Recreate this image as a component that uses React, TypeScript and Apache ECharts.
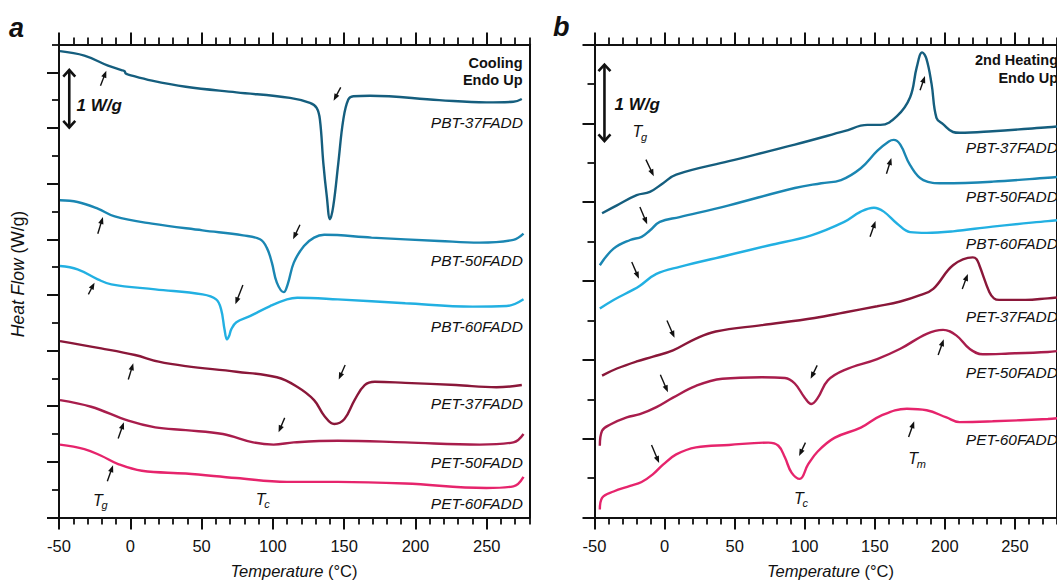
import React, { useEffect, useRef } from "react";
import * as echarts from "echarts";

// ---------- data ----------
const tempTicks = [-50, 0, 50, 100, 150, 200, 250];
const coolYMajor = [0, 1, 2, 3, 4, 5, 6, 7, 8];
const heatYMajor = [0, 1, 2, 3, 4, 5, 6];

const seriesNames = ["PBT-37FADD", "PBT-50FADD", "PBT-60FADD", "PET-37FADD", "PET-50FADD", "PET-60FADD"];
const seriesColors = ["#155e7e", "#1a86b2", "#22b0e2", "#8a1739", "#a81d4c", "#e6246c"];

// Panel a: cooling [T (°C), heat flow (W/g, offset)]
const coolPBT37 = [[-49.3, 8.38], [-32.2, 8.3], [-15.6, 8.12], [-6.2, 8.04], [-4.0, 8.02], [-3.3, 7.98], [-1.4, 7.96], [15.2, 7.85], [38.9, 7.74], [74.4, 7.64], [112.0, 7.54], [126.0, 7.45], [130.7, 7.36], [133.0, 7.15], [135.4, 6.37], [137.8, 5.78], [140.1, 5.36], [142.4, 5.6], [145.9, 6.37], [149.4, 7.15], [152.9, 7.51], [156.4, 7.57], [168.1, 7.58], [216.6, 7.5], [249.7, 7.46], [268.7, 7.47], [274.6, 7.52]];
const coolPBT50 = [[-49.3, 5.7], [-37.0, 5.67], [-22.8, 5.55], [-10.9, 5.41], [15.2, 5.28], [50.7, 5.16], [79.1, 5.07], [91.0, 5.0], [95.7, 4.85], [99.3, 4.58], [102.8, 4.22], [107.6, 4.05], [110.5, 4.2], [114.7, 4.58], [121.8, 4.88], [128.9, 5.03], [136.0, 5.08], [169.2, 5.03], [216.6, 4.97], [245.0, 4.94], [268.7, 4.99], [275.8, 5.1]];
const coolPBT60 = [[-49.3, 4.52], [-37.0, 4.46], [-22.8, 4.28], [-13.3, 4.19], [17.5, 4.1], [50.7, 4.01], [60.2, 3.92], [63.7, 3.74], [66.1, 3.38], [67.8, 3.2], [69.3, 3.26], [70.8, 3.38], [74.4, 3.51], [83.9, 3.62], [98.1, 3.8], [109.9, 3.92], [117.1, 3.95], [145.5, 3.92], [192.9, 3.85], [240.3, 3.79], [264.0, 3.8], [275.8, 3.92]];
const coolPET37 = [[-49.3, 3.17], [-20.4, 3.04], [3.3, 2.92], [19.9, 2.8], [38.9, 2.72], [74.4, 2.62], [102.8, 2.52], [117.0, 2.35], [128.9, 2.11], [136.0, 1.83], [143.1, 1.68], [150.2, 1.77], [157.3, 2.11], [164.4, 2.38], [171.5, 2.44], [192.9, 2.42], [228.4, 2.38], [256.8, 2.34], [274.6, 2.38]];
const coolPET50 = [[-49.3, 2.11], [-27.5, 1.99], [-1.4, 1.74], [17.5, 1.62], [38.9, 1.57], [64.9, 1.5], [86.2, 1.35], [100.5, 1.31], [114.7, 1.35], [145.5, 1.38], [192.9, 1.35], [245.0, 1.31], [268.7, 1.35], [275.8, 1.5]];
const coolPET60 = [[-49.3, 1.31], [-32.2, 1.23], [-20.4, 1.11], [-8.5, 0.96], [8.1, 0.84], [38.9, 0.79], [74.4, 0.71], [109.9, 0.64], [145.5, 0.64], [192.9, 0.61], [249.7, 0.53], [268.7, 0.56], [275.8, 0.73]];

// Panel b: 2nd heating
const heatPBT37 = [[-44.6, 3.86], [-34.0, 3.96], [-19.9, 4.09], [-10.5, 4.13], [-1.1, 4.24], [8.3, 4.35], [45.9, 4.52], [92.9, 4.73], [128.2, 4.9], [144.7, 4.98], [154.1, 4.98], [165.8, 5.09], [175.2, 5.33], [179.9, 5.71], [183.8, 5.9], [186.8, 5.82], [190.5, 5.5], [194.0, 5.07], [198.7, 4.99], [205.8, 4.89], [210.5, 4.88], [234.0, 4.9], [273.5, 4.95], [280, 4.96]];
const heatPBT50 = [[-46.2, 3.2], [-36.4, 3.41], [-24.6, 3.52], [-16.4, 3.56], [-10.5, 3.64], [-3.4, 3.75], [10.7, 3.81], [45.9, 3.96], [92.9, 4.18], [111.8, 4.24], [125.9, 4.28], [140.0, 4.43], [151.7, 4.65], [160.0, 4.77], [163.5, 4.79], [168.2, 4.73], [175.2, 4.47], [184.6, 4.28], [198.7, 4.24], [234.0, 4.26], [273.5, 4.31], [280, 4.32]];
const heatPBT60 = [[-46.2, 2.65], [-36.4, 2.76], [-22.3, 2.89], [-17.6, 2.94], [-5.8, 3.09], [10.7, 3.18], [45.9, 3.33], [74.1, 3.45], [104.7, 3.58], [128.2, 3.75], [140.0, 3.88], [149.4, 3.93], [156.4, 3.88], [165.8, 3.73], [175.2, 3.62], [187.0, 3.61], [205.8, 3.63], [234.0, 3.69], [273.5, 3.76], [280, 3.77]];
const heatPET37 = [[-44.6, 1.8], [-34.0, 1.89], [-19.9, 1.98], [-8.2, 2.04], [6.0, 2.12], [22.4, 2.27], [36.5, 2.36], [69.4, 2.44], [107.1, 2.53], [128.2, 2.6], [151.7, 2.68], [168.2, 2.74], [182.3, 2.82], [191.7, 2.9], [205.8, 3.2], [219.9, 3.3], [222.5, 3.28], [224.6, 3.2], [231.7, 2.86], [235.0, 2.78], [238.7, 2.76], [257.5, 2.76], [273.5, 2.78], [280, 2.79]];
const heatPET50 = [[-46.2, 0.91], [-44.6, 1.1], [-38.7, 1.18], [-27.0, 1.27], [-17.6, 1.31], [-5.8, 1.4], [6.0, 1.52], [22.4, 1.67], [41.2, 1.76], [69.4, 1.78], [85.9, 1.77], [92.9, 1.7], [100.0, 1.52], [104.7, 1.44], [109.4, 1.52], [116.5, 1.74], [128.2, 1.87], [151.7, 2.01], [168.2, 2.14], [187.0, 2.33], [198.7, 2.38], [208.1, 2.31], [217.6, 2.14], [227.0, 2.07], [245.8, 2.08], [273.5, 2.1], [280, 2.11]];
const heatPET60 = [[-46.2, 0.1], [-44.6, 0.25], [-36.4, 0.33], [-24.6, 0.4], [-16.4, 0.45], [-8.2, 0.55], [-1.1, 0.67], [8.3, 0.8], [22.4, 0.89], [45.9, 0.92], [74.1, 0.95], [81.2, 0.91], [85.9, 0.76], [90.6, 0.57], [96.5, 0.49], [102.3, 0.67], [109.4, 0.84], [121.2, 1.01], [140.0, 1.14], [154.1, 1.29], [172.9, 1.38], [187.0, 1.36], [201.1, 1.27], [210.5, 1.21], [234.0, 1.22], [273.5, 1.25], [280, 1.26]];

// annotation arrows [tailT, tailY, headT, headY]
const coolArrows = [[-20.9, 7.76, -16.8, 8.03], [147.6, 7.73, 142.6, 7.49], [-22.8, 5.1, -19.2, 5.4], [119.0, 5.26, 114.2, 5.0], [-29.4, 4.01, -25.1, 4.22], [79.0, 4.18, 73.7, 3.83], [-1.4, 2.48, 2.1, 2.77], [150.7, 2.74, 146.2, 2.48], [-8.5, 1.42, -4.5, 1.71], [108.3, 1.79, 104.0, 1.53], [-16.1, 0.65, -12.1, 0.94]];
const heatArrows = [[-13.3, 4.54, -7.7, 4.33], [-17.6, 3.94, -12.4, 3.72], [-23.4, 3.24, -18.3, 3.03], [182.3, 5.42, 185.8, 5.6], [158.3, 4.36, 161.8, 4.56], [146.6, 3.56, 150.5, 3.76], [212.4, 2.9, 216.4, 3.09], [1.7, 2.5, 7.1, 2.28], [-3.0, 1.81, 2.4, 1.59], [108.9, 1.93, 104.2, 1.76], [195.2, 2.06, 199.2, 2.26], [-9.3, 0.92, -3.9, 0.69], [100.5, 0.95, 96.0, 0.78], [174.1, 1.02, 178.1, 1.22]];
// 1 W/g scale bars [T, yLow, yHigh]
const coolScaleBar = [[-42.8, 7.0, 8.05]];
const heatScaleBar = [[-42.9, 4.77, 5.75]];

const coolCurves = [coolPBT37, coolPBT50, coolPBT60, coolPET37, coolPET50, coolPET60];
const heatCurves = [heatPBT37, heatPBT50, heatPBT60, heatPET37, heatPET50, heatPET60];

// ---------- styling helpers ----------
const FONT = "'Liberation Sans', Arial, Helvetica, sans-serif";
const INK = "#111111";

function xAxesFor(grid: number) {
  const base = { type: "value", gridIndex: grid, min: -50, max: 280, splitLine: { show: false } };
  const line = { show: true, onZero: false, lineStyle: { color: INK, width: 2 } };
  const noLine = { show: false, onZero: false };
  return [
    { ...base, position: "bottom", interval: 50, axisLine: line,
      axisTick: { show: true, length: 12, customValues: tempTicks, lineStyle: { color: INK, width: 2 } },
      axisLabel: { show: true, customValues: tempTicks, margin: 20, fontFamily: FONT, fontSize: 16.5, color: INK } },
    { ...base, position: "bottom", interval: 10, axisLine: noLine,
      axisTick: { show: true, length: 7, lineStyle: { color: INK, width: 1.8 } }, axisLabel: { show: false } },
    { ...base, position: "top", interval: 50, axisLine: line,
      axisTick: { show: true, length: 12, customValues: tempTicks, lineStyle: { color: INK, width: 2 } }, axisLabel: { show: false } },
    { ...base, position: "top", interval: 10, axisLine: noLine,
      axisTick: { show: true, length: 7, lineStyle: { color: INK, width: 1.8 } }, axisLabel: { show: false } },
  ];
}

function yAxesFor(grid: number, max: number, majors: number[]) {
  const base = { type: "value", gridIndex: grid, min: 0, max, splitLine: { show: false } };
  return [
    { ...base, position: "left", interval: 1, axisLine: { show: true, onZero: false, lineStyle: { color: INK, width: 2 } },
      axisTick: { show: true, length: 12, customValues: majors, lineStyle: { color: INK, width: 2 } }, axisLabel: { show: false } },
    { ...base, position: "left", interval: 0.5, axisLine: { show: false, onZero: false },
      axisTick: { show: true, length: 7, lineStyle: { color: INK, width: 1.8 } }, axisLabel: { show: false } },
    { ...base, position: "right", interval: 1, axisLine: { show: true, onZero: false, lineStyle: { color: INK, width: 2 } },
      axisTick: { show: false }, axisLabel: { show: false } },
  ];
}

function arrowRender(_p: any, api: any) {
  const a = api.coord([api.value(0), api.value(1)]);
  const b = api.coord([api.value(2), api.value(3)]);
  const dx = b[0] - a[0], dy = b[1] - a[1];
  const len = Math.hypot(dx, dy) || 1;
  const ux = dx / len, uy = dy / len;
  const L = 7, W = 2.7;
  const bx = b[0] - ux * L, by = b[1] - uy * L;
  return {
    type: "group",
    children: [
      { type: "line", shape: { x1: a[0], y1: a[1], x2: bx + ux, y2: by + uy }, style: { stroke: INK, lineWidth: 1.4 } },
      { type: "polygon", shape: { points: [[b[0], b[1]], [bx - uy * W, by + ux * W], [bx + uy * W, by - ux * W]] }, style: { fill: INK } },
    ],
  };
}

function scaleBarRender(_p: any, api: any) {
  const top = api.coord([api.value(0), api.value(2)]);
  const bot = api.coord([api.value(0), api.value(1)]);
  const hw = 6, hh = 7;
  const st = { stroke: INK, lineWidth: 2.6, fill: null, lineJoin: "miter" };
  return {
    type: "group",
    children: [
      { type: "line", shape: { x1: top[0], y1: top[1] + 1, x2: bot[0], y2: bot[1] - 1 }, style: st },
      { type: "polyline", shape: { points: [[top[0] - hw, top[1] + hh], [top[0], top[1] + 0.5], [top[0] + hw, top[1] + hh]] }, style: st },
      { type: "polyline", shape: { points: [[bot[0] - hw, bot[1] - hh], [bot[0], bot[1] - 0.5], [bot[0] + hw, bot[1] - hh]] }, style: st },
    ],
  };
}

function text(x: number, y: number, t: string, o: any = {}) {
  const align = o.align || "left";
  return {
    type: "text", x, y, z: 10, rotation: o.rotation || 0,
    style: {
      text: t, fill: INK, fontFamily: FONT, fontSize: o.size || 15.5,
      fontStyle: o.italic ? "italic" : "normal", fontWeight: o.bold ? "bold" : "normal",
      align, textAlign: align, verticalAlign: "middle", textVerticalAlign: "middle",
    },
  };
}

function symbolLabel(x: number, y: number, sub: string) {
  return [
    text(x, y, "T", { italic: true, size: 16 }),
    text(x + 8.6, y + 5, sub, { italic: true, size: 11 }),
  ];
}

function richTitle(x: number, y: number, italicPart: string, plainPart: string, size: number, rotation = 0) {
  const tok = (italic: boolean) => ({ fontFamily: FONT, fontSize: size, fontStyle: italic ? "italic" : "normal", fill: INK });
  return {
    type: "text", x, y, rotation, z: 10,
    style: {
      text: `{i|${italicPart}}{n| ${plainPart}}`, fontFamily: FONT, fontSize: size, fill: INK,
      align: "center", textAlign: "center", verticalAlign: "middle", textVerticalAlign: "middle",
      rich: { i: tok(true), n: tok(false) },
    },
  };
}

export default function App() {
  const ref = useRef<HTMLDivElement>(null);

  useEffect(() => {
    if (!ref.current) return;
    const chart = echarts.init(ref.current, undefined, { renderer: "svg" });

    const lineSeries = (data: number[][], i: number, xi: number, yi: number) => ({
      type: "line", name: seriesNames[i], data, xAxisIndex: xi, yAxisIndex: yi,
      showSymbol: false, symbol: "none", smooth: 0.4,
      lineStyle: { color: seriesColors[i], width: 2.4 }, itemStyle: { color: seriesColors[i] },
      silent: true, z: 3,
    });

    const coolLabelY = [122.3, 260.7, 326.5, 403.1, 462.9, 503.4];
    const heatLabelY = [147.9, 196.6, 243.7, 316.2, 372.4, 439.6];

    const graphic: any[] = [
      text(9, 28, "a", { bold: true, italic: true, size: 27 }),
      text(553, 27, "b", { bold: true, italic: true, size: 27 }),
      text(522.5, 63.3, "Cooling", { bold: true, size: 14.5, align: "right" }),
      text(522.5, 79.5, "Endo Up", { bold: true, size: 14.5, align: "right" }),
      text(1058, 60, "2nd Heating", { bold: true, size: 14.5, align: "right" }),
      text(1058, 78, "Endo Up", { bold: true, size: 14.5, align: "right" }),
      text(76.5, 105, "1 W/g", { bold: true, italic: true, size: 17 }),
      text(614.5, 104.2, "1 W/g", { bold: true, italic: true, size: 17 }),
      ...seriesNames.map((n, i) => text(523, coolLabelY[i], n, { italic: true, align: "right" })),
      ...seriesNames.map((n, i) => text(1058, heatLabelY[i], n, { italic: true, align: "right" })),
      ...symbolLabel(93, 500, "g"),
      ...symbolLabel(255.7, 499.4, "c"),
      ...symbolLabel(632.5, 131.9, "g"),
      ...symbolLabel(793.9, 498.4, "c"),
      ...symbolLabel(908.2, 458.9, "m"),
      richTitle(294, 571, "Temperature", "(°C)", 16.5),
      richTitle(830.5, 571, "Temperature", "(°C)", 16.5),
      richTitle(17.5, 274, "Heat Flow", "(W/g)", 17.5, Math.PI / 2),
    ];

    chart.setOption({
      animation: false,
      backgroundColor: "#ffffff",
      grid: [
        { left: 59, top: 44.5, width: 470.5, height: 473 },
        { left: 594.5, top: 44.5, width: 471.5, height: 473 },
      ],
      xAxis: [...xAxesFor(0), ...xAxesFor(1)],
      yAxis: [...yAxesFor(0, 8.5, coolYMajor), ...yAxesFor(1, 6, heatYMajor)],
      series: [
        ...coolCurves.map((d, i) => lineSeries(d, i, 0, 0)),
        ...heatCurves.map((d, i) => lineSeries(d, i, 4, 3)),
        { type: "custom", xAxisIndex: 0, yAxisIndex: 0, data: coolArrows, renderItem: arrowRender, silent: true, z: 5 },
        { type: "custom", xAxisIndex: 4, yAxisIndex: 3, data: heatArrows, renderItem: arrowRender, silent: true, z: 5 },
        { type: "custom", xAxisIndex: 0, yAxisIndex: 0, data: coolScaleBar, renderItem: scaleBarRender, silent: true, z: 5 },
        { type: "custom", xAxisIndex: 4, yAxisIndex: 3, data: heatScaleBar, renderItem: scaleBarRender, silent: true, z: 5 },
      ],
      graphic,
    });

    return () => chart.dispose();
  }, []);

  return (
    <div
      ref={ref}
      style={{ position: "absolute", left: 0, top: 0, width: 1057, height: 580, background: "#fff" }}
    />
  );
}
